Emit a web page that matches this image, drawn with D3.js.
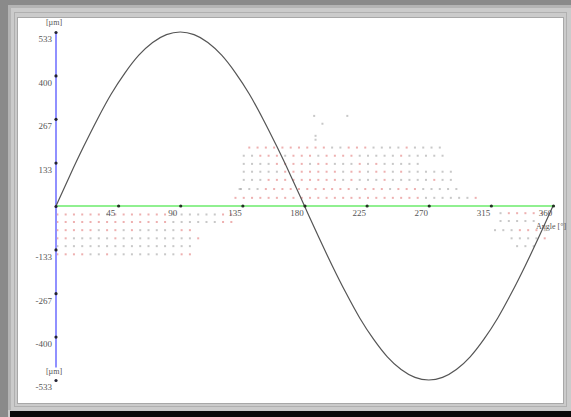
<!DOCTYPE html>
<html>
<head>
<meta charset="utf-8">
<script src="https://cdn.jsdelivr.net/npm/d3@7"></script>
<style>
  html, body { margin: 0; padding: 0; background: #c8c8c8; }
  svg { display: block; }
</style>
</head>
<body>
<svg width="571" height="417"></svg>
<script>
// curve samples (angle in degrees, displacement in µm)
const angles = [0, 10, 20, 30, 40, 50, 60, 70, 80, 90, 100, 110, 120, 130, 140, 150, 160, 170, 180,
  190, 200, 210, 220, 230, 240, 250, 260, 270, 280, 290, 300, 310, 320, 330, 340, 350, 360];
const values = [0, 93, 182, 266, 343, 408, 462, 501, 525, 533, 525, 501, 462, 408, 343, 266, 182, 93, 0,
  -93, -182, -266, -343, -408, -462, -501, -525, -533, -525, -501, -462, -408, -343, -266, -182, -93, 0];

const xTicks = [45, 90, 135, 180, 225, 270, 315, 360];
const yTicks = [533, 400, 267, 133, 0, -133, -267, -400, -533];

// faint measurement dots: each row = value, first angle, last angle, colour pattern (r = red, g = grey)
const dotRows = [
  // under the axis, left
  { v: -26, a0: 1, a1: 130, c: "rrrrrrgrrrrrrrgggggg" },
  { v: -49, a0: 1, a1: 128, c: "rrrrrrrrrrrrrrgggggg" },
  { v: -74, a0: 1, a1: 97, c: "rrrrrgrrgrggggg" },
  { v: -99, a0: 1, a1: 108, c: "rrgggggrggggggggg" },
  { v: -123, a0: 1, a1: 97, c: "ggggggggggggggg" },
  { v: -148, a0: 1, a1: 97, c: "rrrrggrgggggggg" },
  // above the axis, middle
  { v: 179, a0: 140, a1: 278, c: "rrrrrrrrrrggrrrggggrgggg" },
  { v: 154, a0: 136, a1: 282, c: "ggrrrgrrrgrrrrgggggrgggg" },
  { v: 129, a0: 136, a1: 262, c: "ggggrrrrgrrgggrgrgggg" },
  { v: 105, a0: 136, a1: 286, c: "gggggrrrrrrrgrrgrrgrggggg" },
  { v: 80, a0: 136, a1: 290, c: "gggrrrrrrrrrgrgggrgggggrg" },
  { v: 52, a0: 134, a1: 292, c: "gggrrrrrrrrrrrgrrrgrrrgggg" },
  { v: 25, a0: 130, a1: 308, c: "rrrrrrrrrrrrrrrrrrrrrrrgggggg" },
  // under the axis, right
  { v: -22, a0: 322, a1: 354, c: "grrrrr" },
  { v: -46, a0: 322, a1: 346, c: "ggggg" },
  { v: -74, a0: 318, a1: 354, c: "gggrrrg" },
  { v: -99, a0: 330, a1: 354, c: "ggggr" },
  { v: -123, a0: 334, a1: 350, c: "ggg" }
];
const strayAngles = [187, 193, 211, 188, 188, 133];
const strayValues = [276, 252, 276, 215, 203, 52];

const svg = d3.select("svg");

// window frame
svg.append("rect").attr("x", 0).attr("y", 0).attr("width", 571).attr("height", 417).attr("fill", "#cbcbcb");
svg.append("rect").attr("x", 0).attr("y", 0).attr("width", 571).attr("height", 5).attr("fill", "#8a8a8a");
svg.append("rect").attr("x", 0).attr("y", 0).attr("width", 8).attr("height", 417).attr("fill", "#8a8a8a");
svg.append("rect").attr("x", 8).attr("y", 5).attr("width", 563).attr("height", 3).attr("fill", "#b4b4b4");
svg.append("rect").attr("x", 8).attr("y", 5).attr("width", 3).attr("height", 405).attr("fill", "#b4b4b4");
svg.append("rect").attr("x", 14.5).attr("y", 12.5).attr("width", 552).attr("height", 394)
  .attr("fill", "none").attr("stroke", "#b0b0b0");
svg.append("rect").attr("x", 18).attr("y", 18).attr("width", 545).attr("height", 385).attr("fill", "#ffffff");
svg.append("rect").attr("x", 17.5).attr("y", 17.5).attr("width", 546).attr("height", 386)
  .attr("fill", "none").attr("stroke", "#a8a8a8");
svg.append("rect").attr("x", 10).attr("y", 411).attr("width", 561).attr("height", 6).attr("fill", "#0a0a0a");

const x = d3.scaleLinear().domain([0, 360]).range([56, 553]);
const y = d3.scaleLinear().domain([-533, 533]).range([380, 32]);

// dot field
const dots = [];
dotRows.forEach(r => {
  let i = 0;
  for (let a = r.a0; a <= r.a1 + 0.01; a += 6) {
    dots.push({ a: a, v: r.v, c: r.c[i % r.c.length] });
    i++;
  }
});
strayAngles.forEach((a, i) => dots.push({ a: a, v: strayValues[i], c: "g" }));

svg.append("g")
  .selectAll("rect")
  .data(dots)
  .join("rect")
    .attr("x", d => x(d.a) - 1)
    .attr("y", d => y(d.v) - 1)
    .attr("width", 2)
    .attr("height", 2)
    .attr("fill", d => d.c === "r" ? "#e07070" : "#9a9a9a")
    .attr("opacity", 0.55);

// axes lines
svg.append("line")
  .attr("x1", x(0)).attr("x2", x(0))
  .attr("y1", y(533)).attr("y2", y(-495))
  .attr("stroke", "#9090ff").attr("stroke-width", 2);
svg.append("line")
  .attr("x1", x(0)).attr("x2", x(360))
  .attr("y1", y(0)).attr("y2", y(0))
  .attr("stroke", "#90f090").attr("stroke-width", 2);

// sine curve
const line = d3.line()
  .x((d, i) => x(angles[i]))
  .y(d => y(d))
  .curve(d3.curveMonotoneX);
svg.append("path")
  .datum(values)
  .attr("d", line)
  .attr("fill", "none")
  .attr("stroke", "#555")
  .attr("stroke-width", 1.2);

// y axis
const yAxis = svg.append("g")
  .attr("transform", `translate(${x(0)},0)`)
  .call(d3.axisLeft(y).tickValues(yTicks).tickSize(0).tickPadding(4)
    .tickFormat(d => d === 0 ? "" : String(d)));
yAxis.select(".domain").remove();
yAxis.selectAll("text")
  .attr("y", 7)
  .attr("font-family", "Liberation Serif, serif")
  .attr("font-size", 9)
  .attr("fill", "#555");
yAxis.selectAll(".tick").append("circle")
  .attr("r", 1.6).attr("fill", "#223");

// x axis
const xAxis = svg.append("g")
  .attr("transform", `translate(0,${y(0)})`)
  .call(d3.axisBottom(x).tickValues(xTicks).tickSize(0).tickPadding(0)
    .tickFormat(d => String(d)));
xAxis.select(".domain").remove();
xAxis.selectAll("text")
  .attr("x", -8)
  .attr("y", 4)
  .attr("font-family", "Liberation Serif, serif")
  .attr("font-size", 9)
  .attr("fill", "#555");
xAxis.selectAll(".tick").append("circle")
  .attr("r", 1.6).attr("fill", "#232");

// unit labels
const labelFont = { family: "Liberation Serif, serif", size: 8 };
svg.append("text")
  .attr("x", x(0) - 2).attr("y", 25)
  .attr("text-anchor", "middle")
  .attr("font-family", labelFont.family).attr("font-size", labelFont.size).attr("fill", "#555")
  .text("[µm]");
svg.append("text")
  .attr("x", x(0) - 2).attr("y", 374)
  .attr("text-anchor", "middle")
  .attr("font-family", labelFont.family).attr("font-size", labelFont.size).attr("fill", "#555")
  .text("[µm]");
svg.append("text")
  .attr("x", x(360) - 17).attr("y", 229)
  .attr("font-family", labelFont.family).attr("font-size", labelFont.size).attr("fill", "#555")
  .text("Angle [°]");
</script>
</body>
</html>
